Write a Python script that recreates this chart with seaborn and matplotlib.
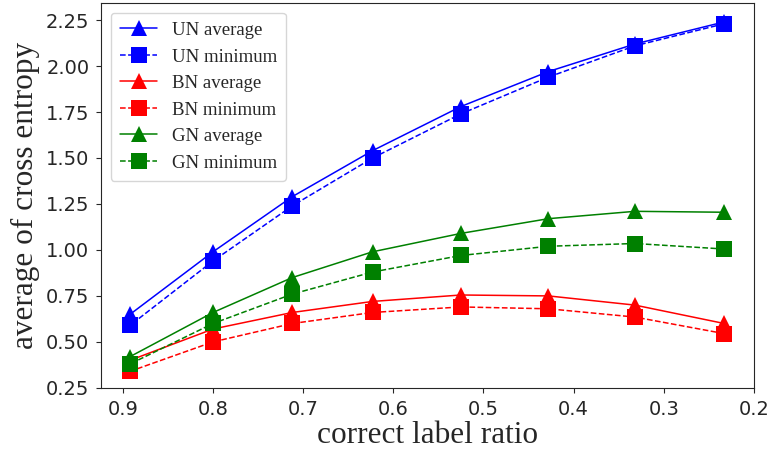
import seaborn as sns
import pandas as pd
import matplotlib.pyplot as plt

ratio = [0.892, 0.80, 0.712, 0.623, 0.525, 0.428, 0.332, 0.233]

un_avg = [0.65, 0.99, 1.29, 1.54, 1.78, 1.97, 2.12, 2.24]
un_min = [0.59, 0.94, 1.24, 1.50, 1.74, 1.94, 2.11, 2.23]
bn_avg = [0.40, 0.57, 0.66, 0.72, 0.755, 0.75, 0.70, 0.60]
bn_min = [0.34, 0.50, 0.60, 0.66, 0.69, 0.68, 0.635, 0.545]
gn_avg = [0.42, 0.66, 0.85, 0.99, 1.09, 1.17, 1.21, 1.205]
gn_min = [0.38, 0.60, 0.76, 0.88, 0.97, 1.02, 1.035, 1.005]

series = [
    ("UN average", un_avg, "blue", "^", "-"),
    ("UN minimum", un_min, "blue", "s", "--"),
    ("BN average", bn_avg, "red", "^", "-"),
    ("BN minimum", bn_min, "red", "s", "--"),
    ("GN average", gn_avg, "green", "^", "-"),
    ("GN minimum", gn_min, "green", "s", "--"),
]

sns.set_style("ticks")
plt.rcParams["font.family"] = ["DejaVu Sans"]

fig, ax = plt.subplots(figsize=(7.67, 4.51), dpi=100)

for name, vals, col, mk, ls in series:
    df = pd.DataFrame({"ratio": ratio, "ce": vals})
    sns.lineplot(data=df, x="ratio", y="ce", ax=ax, color=col, marker=mk,
                 linestyle=ls, linewidth=1.1, markersize=12,
                 markeredgewidth=0, label=name)

ax.set_xlim(0.924, 0.2)
ax.set_ylim(0.25, 2.342)
ax.set_xticks([0.9, 0.8, 0.7, 0.6, 0.5, 0.4, 0.3, 0.2])
ax.set_yticks([0.25, 0.5, 0.75, 1.0, 1.25, 1.5, 1.75, 2.0, 2.25])
ax.tick_params(labelsize=14, pad=5)

serif = {"family": "Liberation Serif", "size": 22.5}
ax.set_xlabel("correct label ratio", fontdict=serif, labelpad=2)
ax.set_ylabel("average of cross entropy", fontdict=serif, labelpad=4)

ax.legend(loc="upper left", prop={"family": "Liberation Serif", "size": 13.5},
          handlelength=2.0, handletextpad=0.75, borderpad=0.5, labelspacing=0.5)

fig.subplots_adjust(left=0.132, right=0.983, top=0.993, bottom=0.14)
fig.savefig("out.png", dpi=100)
